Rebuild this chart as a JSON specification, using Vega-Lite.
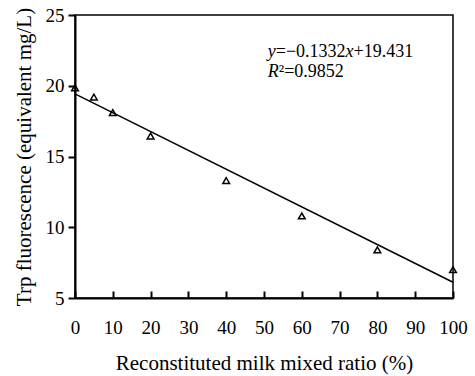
{
  "$schema": "https://vega.github.io/schema/vega-lite/v6.json",
  "width": 378,
  "height": 283,
  "autosize": {"type": "none"},
  "padding": {"left": 75, "top": 15, "right": 22, "bottom": 78},
  "background": "white",
  "config": {
    "view": {"stroke": "black", "strokeWidth": 1.5},
    "font": "Liberation Serif",
    "text": {"font": "Liberation Serif", "fontSize": 18, "color": "black", "align": "left", "baseline": "middle"},
    "axis": {
      "grid": false,
      "domainColor": "black",
      "domainWidth": 2,
      "tickColor": "black",
      "tickWidth": 2,
      "labelFont": "Liberation Serif",
      "titleFont": "Liberation Serif",
      "labelFontSize": 19,
      "titleFontSize": 21,
      "labelColor": "black",
      "titleColor": "black",
      "titleFontWeight": "normal"
    }
  },
  "datasets": {
    "points": [
      {"ratio": 0, "trp": 19.85},
      {"ratio": 5, "trp": 19.2},
      {"ratio": 10, "trp": 18.1},
      {"ratio": 20, "trp": 16.45},
      {"ratio": 40, "trp": 13.3},
      {"ratio": 60, "trp": 10.8},
      {"ratio": 80, "trp": 8.4},
      {"ratio": 100, "trp": 7.0}
    ],
    "fit": [
      {"ratio": 0, "trp": 19.431},
      {"ratio": 100, "trp": 6.111}
    ],
    "eqItalic1": [{"ratio": 51, "trp": 22.39, "text": "y"}, {"ratio": 51, "trp": 20.97, "text": "R"}],
    "eqNormal1": [{"ratio": 51, "trp": 22.39, "text": "=−0.1332"}],
    "eqItalic2": [{"ratio": 51, "trp": 22.39, "text": "x"}],
    "eqNormal2": [{"ratio": 51, "trp": 22.39, "text": "+19.431"}],
    "eqNormal3": [{"ratio": 51, "trp": 20.97, "text": "²=0.9852"}]
  },
  "layer": [
    {
      "data": {"name": "fit"},
      "mark": {"type": "line", "color": "black", "strokeWidth": 1.5},
      "encoding": {
        "x": {
          "field": "ratio", "type": "quantitative",
          "scale": {"domain": [0, 100], "nice": false},
          "axis": {"tickCount": 10, "labelOverlap": false, "labelFlush": false, "labelBound": false, "tickSize": -7, "labelPadding": 27, "title": "Reconstituted milk mixed ratio (%)", "titlePadding": 15}
        },
        "y": {
          "field": "trp", "type": "quantitative",
          "scale": {"domain": [5, 25], "nice": false, "zero": false},
          "axis": {"tickCount": 4, "labelOverlap": false, "labelFlush": false, "tickSize": 7, "labelPadding": 4, "title": "Trp fluorescence (equivalent mg/L)", "titlePadding": 11}
        }
      }
    },
    {
      "data": {"name": "points"},
      "mark": {"type": "point", "shape": "triangle-up", "filled": false, "color": "black", "opacity": 1, "strokeWidth": 1.5, "size": 45},
      "encoding": {
        "x": {"field": "ratio", "type": "quantitative"},
        "y": {"field": "trp", "type": "quantitative"}
      }
    },
    {
      "data": {"name": "eqItalic1"},
      "mark": {"type": "text", "fontStyle": "italic"},
      "encoding": {"x": {"field": "ratio", "type": "quantitative"}, "y": {"field": "trp", "type": "quantitative"}, "text": {"field": "text"}}
    },
    {
      "data": {"name": "eqNormal1"},
      "mark": {"type": "text", "dx": 8},
      "encoding": {"x": {"field": "ratio", "type": "quantitative"}, "y": {"field": "trp", "type": "quantitative"}, "text": {"field": "text"}}
    },
    {
      "data": {"name": "eqItalic2"},
      "mark": {"type": "text", "fontStyle": "italic", "dx": 77.8},
      "encoding": {"x": {"field": "ratio", "type": "quantitative"}, "y": {"field": "trp", "type": "quantitative"}, "text": {"field": "text"}}
    },
    {
      "data": {"name": "eqNormal2"},
      "mark": {"type": "text", "dx": 85.8},
      "encoding": {"x": {"field": "ratio", "type": "quantitative"}, "y": {"field": "trp", "type": "quantitative"}, "text": {"field": "text"}}
    },
    {
      "data": {"name": "eqNormal3"},
      "mark": {"type": "text", "dx": 11},
      "encoding": {"x": {"field": "ratio", "type": "quantitative"}, "y": {"field": "trp", "type": "quantitative"}, "text": {"field": "text"}}
    }
  ]
}
